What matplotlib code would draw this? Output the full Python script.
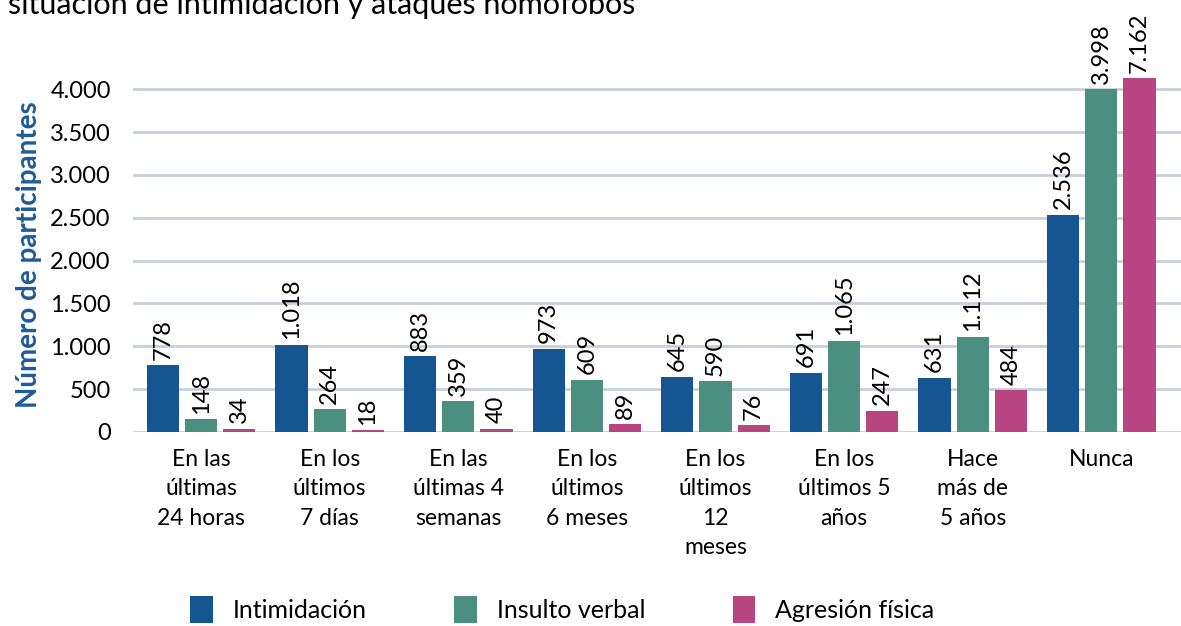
import numpy as np
import matplotlib.pyplot as plt

plt.rcParams['font.family'] = ['Lato', 'DejaVu Sans']

categorias = ["En las\núltimas\n24 horas", "En los\núltimos\n7 días", "En las\núltimas 4\nsemanas",
              "En los\núltimos\n6 meses", "En los\núltimos\n12\nmeses", "En los\núltimos 5\naños",
              "Hace\nmás de\n5 años", "Nunca"]
intimidacion = [778, 1018, 883, 973, 645, 691, 631, 2536]
insulto = [148, 264, 359, 609, 590, 1065, 1112, 3998]
agresion = [34, 18, 40, 89, 76, 247, 484, 7162]

series = [("Intimidación", intimidacion, "#155591"),
          ("Insulto verbal", insulto, "#4b8f80"),
          ("Agresión física", agresion, "#b8457f")]

def fmt(v):
    return "{:,}".format(v).replace(",", ".")

fig = plt.figure(figsize=(11.81, 6.26), dpi=100)
ax = fig.add_axes([0.1126, 0.31, 0.8874, 0.565])

x = np.arange(len(categorias))
w = 0.25
step = 0.297
ytop = 4128

for i, (nombre, vals, col) in enumerate(series):
    pos = x + (i - 1) * step
    ax.bar(pos, vals, width=w, color=col, label=nombre, zorder=3)
    for p, v in zip(pos, vals):
        yy = min(v, ytop)
        ax.annotate(fmt(v), (p, yy), xytext=(0, 4), textcoords="offset points",
                    rotation=90, ha="center", va="bottom", fontsize=17,
                    annotation_clip=False)

ax.set_ylim(0, ytop)
ax.set_xlim(-0.53, 7.62)
ax.set_yticks(np.arange(0, 4001, 500))
ax.set_yticklabels([fmt(v) for v in range(0, 4001, 500)], fontsize=17)
ax.set_xticks(x)
ax.set_xticklabels(categorias, fontsize=16.5, linespacing=1.5)
ax.tick_params(length=0)
ax.tick_params(axis="y", pad=16)
ax.tick_params(axis="x", pad=12)
ax.grid(axis="y", color="#c5cfdc", linewidth=2, zorder=0)
for s in ax.spines.values():
    s.set_visible(False)

ax.set_ylabel("Número de participantes", fontsize=20, fontweight="bold", color="#1d5c98", labelpad=6)

fig.text(0.007, 1 - 14 / 626, "situación de intimidación y ataques homófobos", fontsize=22,
         va="baseline", ha="left")

fig.legend(loc="center", bbox_to_anchor=(0.476, 0.026), ncol=3, frameon=False, fontsize=18,
           handlelength=0.9, handleheight=1.3, columnspacing=3.5, handletextpad=0.8)

fig.savefig("out.png", dpi=100)
